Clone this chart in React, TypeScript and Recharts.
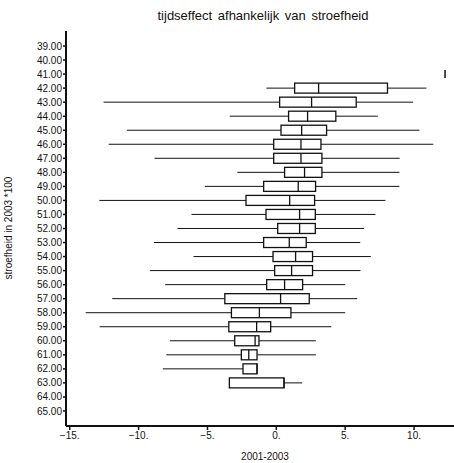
import React from 'react';
import { ComposedChart, Bar, XAxis, YAxis, Customized, Label } from 'recharts';

const categories = ['39.00','40.00','41.00','42.00','43.00','44.00','45.00','46.00','47.00','48.00','49.00','50.00','51.00','52.00','53.00','54.00','55.00','56.00','57.00','58.00','59.00','60.00','61.00','62.00','63.00','64.00','65.00'];
const mins = [null, null, 12.25, -0.72, -12.54, -3.38, -10.85, -12.17, -8.84, -2.83, -5.19, -12.85, -6.16, -7.17, -8.89, -6.01, -9.18, -8.07, -11.91, -13.84, -12.83, -7.73, -7.99, -8.24, -3.41, null, null];
const q1s = [null, null, 12.25, 1.33, 0.24, 0.89, 0.34, -0.19, -0.19, 0.6, -0.92, -2.2, -0.75, 0.1, -0.92, -0.24, -0.12, -0.7, -3.74, -3.26, -3.45, -3.02, -2.54, -2.42, -3.41, null, null];
const medians = [null, null, 12.25, 3.07, 2.56, 2.27, 1.84, 1.79, 1.79, 2.05, 1.59, 0.97, 1.69, 1.69, 0.94, 1.4, 1.11, 0.6, 0.31, -1.23, -1.43, -1.54, -2.0, -1.4, 0.56, null, null];
const q3s = [null, null, 12.25, 8.07, 5.8, 4.32, 3.65, 3.24, 3.31, 3.31, 2.85, 2.78, 2.83, 2.83, 2.17, 2.63, 2.63, 1.91, 2.39, 1.06, -0.41, -1.26, -1.4, -1.4, 0.56, null, null];
const maxs = [null, null, 12.25, 10.9, 9.93, 7.37, 10.39, 11.4, 8.96, 8.94, 8.94, 7.92, 7.2, 6.38, 6.09, 6.86, 6.11, 5.0, 5.87, 5.0, 3.99, 2.87, 2.87, -1.4, 1.88, null, null];
const xTicks = [-15, -10, -5, 0, 5, 10];

const data = categories.map((cat, i) => ({
  cat,
  min: mins[i],
  q1: q1s[i],
  median: medians[i],
  q3: q3s[i],
  max: maxs[i],
  range: mins[i] == null ? null : [mins[i], maxs[i]],
}));

const FONT = '"Liberation Sans Narrow", "Liberation Sans", Arial, sans-serif';
const INK = '#111';

const BoxShape = (props: any) => {
  const { x, y, width, height, payload } = props;
  if (!payload || payload.min == null) return null;
  const left = Math.min(x, x + width);
  const w = Math.abs(width);
  const span = payload.max - payload.min;
  const cy = y + height / 2;
  if (span === 0 || w === 0) {
    return <line x1={x} x2={x} y1={y + 1} y2={y + height - 1} stroke={INK} strokeWidth={1.5} />;
  }
  const px = (v: number) => left + ((v - payload.min) / span) * w;
  return (
    <g>
      <line x1={px(payload.min)} x2={px(payload.q1)} y1={cy} y2={cy} stroke={INK} strokeWidth={1} />
      <line x1={px(payload.q3)} x2={px(payload.max)} y1={cy} y2={cy} stroke={INK} strokeWidth={1} />
      <rect x={px(payload.q1)} y={y} width={px(payload.q3) - px(payload.q1)} height={height} fill="#fff" stroke={INK} strokeWidth={1.3} />
      <line x1={px(payload.median)} x2={px(payload.median)} y1={y} y2={y + height} stroke={INK} strokeWidth={1.3} />
    </g>
  );
};

const fmtX = (v: number) => (v < 0 ? '\u2212' + Math.abs(v) + '.' : v + '.');

const Texts = () => (
  <g>
    <text x={263} y={20} textAnchor="middle" fontFamily={FONT} fontSize={13} fill={INK} wordSpacing={2}>
      tijdseffect afhankelijk van stroefheid
    </text>
    <text x={0} y={0} transform="translate(12,228) rotate(-90)" textAnchor="middle" fontFamily={FONT} fontSize={10} fill={INK}>
      stroefheid in 2003 *100
    </text>
  </g>
);

export default function App() {
  return (
    <div style={{ position: 'absolute', left: 0, top: 0, width: 454, height: 463, background: '#fff' }}>
      <ComposedChart width={454} height={463} data={data} layout="vertical" margin={{ top: 31, right: 0, bottom: 0, left: 0 }}>
        <XAxis
          type="number"
          dataKey="max"
          domain={[-15.27, 12.9]}
          allowDataOverflow
          ticks={xTicks}
          tickFormatter={fmtX}
          height={37}
          axisLine={{ stroke: INK, strokeWidth: 2 }}
          tickLine={{ stroke: INK, strokeWidth: 1.5 }}
          tickSize={4}
          tickMargin={2}
          tick={{ fontFamily: FONT, fontSize: 10, fill: INK }}
        >
          <Label value="2001-2003" position="insideBottom" offset={3} dx={5} style={{ fontFamily: FONT, fontSize: 10, fill: INK }} />
        </XAxis>
        <XAxis
          xAxisId="top"
          type="number"
          orientation="top"
          domain={[-15.27, 12.9]}
          allowDataOverflow
          height={0}
          tick={false}
          tickLine={false}
          axisLine={{ stroke: INK, strokeWidth: 2 }}
        />
        <YAxis
          type="category"
          dataKey="cat"
          width={66}
          padding={{ top: 8, bottom: 8 }}
          interval={0}
          axisLine={{ stroke: INK, strokeWidth: 2 }}
          tickLine={{ stroke: INK, strokeWidth: 1.5 }}
          tickSize={3}
          tickMargin={1}
          tick={{ fontFamily: FONT, fontSize: 10, fill: INK }}
        />
        <Bar dataKey="range" barSize={10} shape={BoxShape} isAnimationActive={false} />
        <Customized component={Texts} />
      </ComposedChart>
    </div>
  );
}
